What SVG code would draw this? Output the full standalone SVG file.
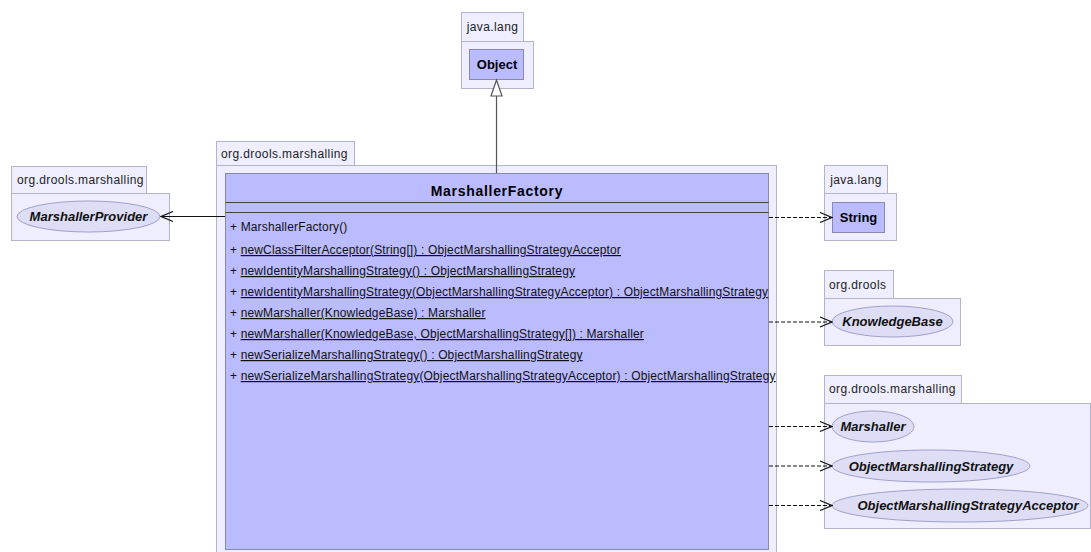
<svg xmlns="http://www.w3.org/2000/svg" width="1091" height="552" viewBox="0 0 1091 552">
<defs>
<style>
.pkg{fill:#EEEEFF;stroke:#B4B4C8;stroke-width:1}
.cls{fill:#BBBBFF;stroke:#8888B0;stroke-width:1}
.ell{fill:#DDDDF6;stroke:#A0A0C8;stroke-width:1}
.ptxt{font-family:"Liberation Sans",Arial,sans-serif;font-size:12px;letter-spacing:0.4px;fill:#222}
.btxt{font-family:"Liberation Sans",Arial,sans-serif;font-size:13px;font-weight:bold;fill:#000}
.itxt{font-family:"Liberation Sans",Arial,sans-serif;font-size:13px;font-weight:bold;font-style:italic;fill:#111}
.mtxt{font-family:"Liberation Sans",Arial,sans-serif;font-size:12px;letter-spacing:0.15px;fill:#111}
.u{text-decoration:underline}
.dash{fill:none;stroke:#111;stroke-width:1;stroke-dasharray:4,2}
.solid{fill:none;stroke:#111;stroke-width:1}
</style>
<marker id="open" markerWidth="14" markerHeight="12" refX="13" refY="6" orient="auto" markerUnits="userSpaceOnUse">
<path d="M1,1 L13,6 L1,11" fill="none" stroke="#111" stroke-width="1.2"/>
</marker>
</defs>
<rect width="1091" height="552" fill="#FFFFFF"/>

<g id="pkg-object">
<rect class="pkg" x="461.5" y="12.5" width="62" height="29"/>
<rect class="pkg" x="461.5" y="41.5" width="72" height="47"/>
<text class="ptxt" x="492.5" y="31" text-anchor="middle">java.lang</text>
</g>
<g id="Object">
<rect class="cls" x="469.5" y="49.5" width="54" height="30"/>
<text class="btxt" x="497" y="69" text-anchor="middle">Object</text>
</g>

<g id="pkg-main">
<rect class="pkg" x="216.5" y="141.5" width="138" height="24"/>
<rect class="pkg" x="216.5" y="165.5" width="560" height="390"/>
<text class="ptxt" x="221" y="158">org.drools.marshalling</text>
</g>
<g id="MarshallerFactory">
<rect class="cls" x="225.5" y="173.5" width="543" height="376"/>
<text class="btxt" x="497" y="196" text-anchor="middle" style="font-size:14px;letter-spacing:0.7px">MarshallerFactory</text>
<line x1="225.5" y1="202.5" x2="768.5" y2="202.5" stroke="#444" stroke-width="1"/>
<line x1="225.5" y1="212.5" x2="768.5" y2="212.5" stroke="#444" stroke-width="1"/>
<text class="mtxt" x="230" y="231">+ MarshallerFactory()</text>
<text class="mtxt" x="230" y="254">+ <tspan class="u">newClassFilterAcceptor(String[]) : ObjectMarshallingStrategyAcceptor</tspan></text>
<text class="mtxt" x="230" y="275">+ <tspan class="u">newIdentityMarshallingStrategy() : ObjectMarshallingStrategy</tspan></text>
<text class="mtxt" x="230" y="296">+ <tspan class="u">newIdentityMarshallingStrategy(ObjectMarshallingStrategyAcceptor) : ObjectMarshallingStrategy</tspan></text>
<text class="mtxt" x="230" y="317">+ <tspan class="u">newMarshaller(KnowledgeBase) : Marshaller</tspan></text>
<text class="mtxt" x="230" y="338">+ <tspan class="u">newMarshaller(KnowledgeBase, ObjectMarshallingStrategy[]) : Marshaller</tspan></text>
<text class="mtxt" x="230" y="359">+ <tspan class="u">newSerializeMarshallingStrategy() : ObjectMarshallingStrategy</tspan></text>
<text class="mtxt" x="230" y="380">+ <tspan class="u">newSerializeMarshallingStrategy(ObjectMarshallingStrategyAcceptor) : ObjectMarshallingStrategy</tspan></text>
</g>

<g id="pkg-provider">
<rect class="pkg" x="11.5" y="166.5" width="135" height="27"/>
<rect class="pkg" x="11.5" y="193.5" width="158" height="47"/>
<text class="ptxt" x="17" y="184">org.drools.marshalling</text>
</g>
<g id="MarshallerProvider">
<ellipse class="ell" cx="88.5" cy="216.5" rx="71.5" ry="15.5"/>
<text class="itxt" x="88.5" y="221" text-anchor="middle">MarshallerProvider</text>
</g>

<g id="pkg-string">
<rect class="pkg" x="824.5" y="165.5" width="63" height="28"/>
<rect class="pkg" x="824.5" y="193.5" width="72" height="47"/>
<text class="ptxt" x="856" y="184" text-anchor="middle">java.lang</text>
</g>
<g id="String">
<rect class="cls" x="832.5" y="202.5" width="52" height="30"/>
<text class="btxt" x="858.5" y="222" text-anchor="middle">String</text>
</g>

<g id="pkg-drools">
<rect class="pkg" x="824.5" y="270.5" width="69" height="28"/>
<rect class="pkg" x="824.5" y="298.5" width="136" height="47"/>
<text class="ptxt" x="829" y="289">org.drools</text>
</g>
<g id="KnowledgeBase">
<ellipse class="ell" cx="892.5" cy="321.5" rx="60.5" ry="15.5"/>
<text class="itxt" x="892.5" y="326" text-anchor="middle">KnowledgeBase</text>
</g>

<g id="pkg-marshalling">
<rect class="pkg" x="824.5" y="375.5" width="137" height="28"/>
<rect class="pkg" x="824.5" y="403.5" width="266" height="125"/>
<text class="ptxt" x="829" y="393">org.drools.marshalling</text>
</g>
<g id="Marshaller">
<ellipse class="ell" cx="873" cy="426.5" rx="41" ry="15.5"/>
<text class="itxt" x="873" y="431" text-anchor="middle">Marshaller</text>
</g>
<g id="ObjectMarshallingStrategy">
<ellipse class="ell" cx="931" cy="466" rx="99" ry="16"/>
<text class="itxt" x="931" y="470.5" text-anchor="middle">ObjectMarshallingStrategy</text>
</g>
<g id="ObjectMarshallingStrategyAcceptor">
<ellipse class="ell" cx="960" cy="505.5" rx="128" ry="16.5"/>
<text class="itxt" x="968" y="510" text-anchor="middle">ObjectMarshallingStrategyAcceptor</text>
</g>

<g id="connectors">
<line x1="496.5" y1="173" x2="496.5" y2="96" stroke="#555" stroke-width="1.2"/>
<path d="M496.5,80 L491,96 L502,96 Z" fill="#FFFFFF" stroke="#555" stroke-width="1.2"/>
<line class="solid" x1="225" y1="216.5" x2="161" y2="216.5" marker-end="url(#open)"/>
<line class="dash" x1="769" y1="217.5" x2="832" y2="217.5" marker-end="url(#open)"/>
<line class="dash" x1="769" y1="322" x2="832" y2="322" marker-end="url(#open)"/>
<line class="dash" x1="769" y1="426.5" x2="832" y2="426.5" marker-end="url(#open)"/>
<line class="dash" x1="769" y1="466" x2="832" y2="466" marker-end="url(#open)"/>
<line class="dash" x1="769" y1="505.5" x2="832" y2="505.5" marker-end="url(#open)"/>
</g>
</svg>
